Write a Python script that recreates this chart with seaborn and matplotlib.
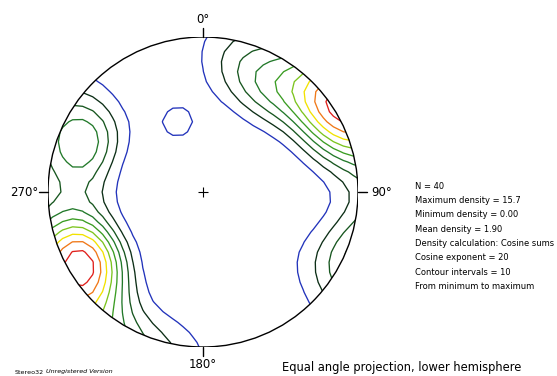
import numpy as np
import matplotlib
matplotlib.use("Agg")
import matplotlib.pyplot as plt
import seaborn as sns
from matplotlib.patches import Circle

# Pole orientations (trend, plunge in degrees), lower hemisphere
pole_trend = [240, 242, 239,
              226, 230, 233, 236, 238, 244, 247, 250, 61,
              236, 246,
              292, 296, 294, 290, 298, 293, 295,
              278, 270, 264, 122,
              338, 342,
              10, 16, 21, 26, 30, 34, 38, 40, 45, 52, 58, 64, 68]
pole_plunge = [11, 10, 9,
               3, 4, 5, 6, 9, 7, 6, 4, 3,
               12, 11,
               8, 10, 6, 11, 8, 12, 9,
               8, 18, 12, 12,
               38, 40,
               4, 7, 12, 16, 9, 8, 18, 6, 11, 6, 2, 3, 4]

cosine_exponent = 20
contour_intervals = 10
max_density = 15.7
min_density = 0.00
mean_density = 1.90

level_colors = ["#2233bb", "#0c2e16", "#17561f", "#22792a", "#3a9c22",
                "#7cc41e", "#f2e200", "#f07818", "#e0201c"]

direction_angles = [0, 90, 180, 270]
direction_labels = ["0°", "90°", "180°", "270°"]

sns.set_theme(style="white")
plt.rcParams["font.family"] = ["DejaVu Sans"]
plt.rcParams["text.color"] = "black"

# Density grid on the equal-angle (stereographic) net
grid = np.linspace(-1.1, 1.1, 35)
X, Y = np.meshgrid(grid, grid)
R = np.hypot(X, Y)
phi = 2 * np.arctan(R)
az = np.arctan2(X, Y)
G = np.stack([np.sin(phi) * np.sin(az), np.sin(phi) * np.cos(az), np.cos(phi)], axis=-1)

t = np.radians(pole_trend)
p = np.radians(pole_plunge)
P = np.stack([np.cos(p) * np.sin(t), np.cos(p) * np.cos(t), np.sin(p)], axis=-1)
density = (np.abs(G @ P.T) ** cosine_exponent).sum(axis=-1)

levels = np.linspace(min_density, max_density, contour_intervals + 1)[1:-1]

fig = plt.figure(figsize=(5.57, 3.76), dpi=100)
ax = fig.add_axes([48 / 557, 29 / 376, 310 / 557, 310 / 376])
ax.set_xlim(-1, 1)
ax.set_ylim(-1, 1)
ax.set_aspect("auto")
ax.axis("off")

cs = ax.contour(X, Y, density, levels=levels, colors=level_colors, linewidths=0.95)
cs.set_clip_path(Circle((0, 0), 1, transform=ax.transData))

ax.add_patch(Circle((0, 0), 1, fill=False, lw=1.0, color="black", zorder=5))

# Direction ticks and labels
for ang, lab in zip(direction_angles, direction_labels):
    a = np.radians(ang)
    dx, dy = np.sin(a), np.cos(a)
    ax.plot([dx, dx * 1.058], [dy, dy * 1.058], color="black", lw=1.0, clip_on=False)
    if ang == 0:
        ax.text(0, 1.11, lab, ha="center", va="center", fontsize=8.5)
    elif ang == 180:
        ax.text(0, -1.115, lab, ha="center", va="center", fontsize=8.5)
    elif ang == 90:
        ax.text(1.084, 0, lab, ha="left", va="center", fontsize=8.5)
    else:
        ax.text(-1.06, 0, lab, ha="right", va="center", fontsize=8.5)

sns.scatterplot(x=[0], y=[0], marker="+", s=50, color="black", linewidth=0.8, ax=ax, zorder=6)

info_lines = [
    f"N = {len(pole_trend)}",
    f"Maximum density = {max_density:.1f}",
    f"Minimum density = {min_density:.2f}",
    f"Mean density = {mean_density:.2f}",
    "Density calculation: Cosine sums",
    f"Cosine exponent = {cosine_exponent}",
    f"Contour intervals = {contour_intervals}",
    "From minimum to maximum",
]
for i, line in enumerate(info_lines):
    fig.text(415 / 557, 1 - (186 + 14.4 * i) / 376, line, ha="left", va="center",
             fontsize=6.0, color="black")

fig.text(282 / 557, 1 - 368 / 376, "Equal angle projection, lower hemisphere",
         ha="left", va="center", fontsize=8.3, color="black")
fig.text(15 / 557, 1 - 372 / 376, "Stereo32", ha="left", va="center", fontsize=4.6,
         color="black")
fig.text(46 / 557, 1 - 372 / 376, "Unregistered Version", ha="left", va="center",
         fontsize=4.6, style="italic", color="black")

fig.savefig("out.png", dpi=100, facecolor="white")
